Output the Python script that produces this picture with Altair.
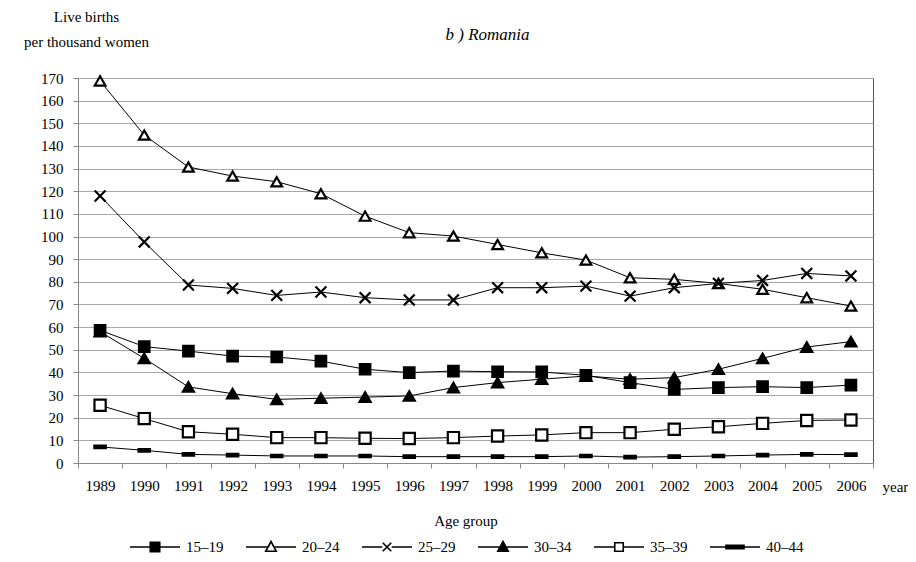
import altair as alt
import pandas as pd

years = list(range(1989, 2007))
age_groups = ["15–19", "20–24", "25–29", "30–34", "35–39", "40–44"]

s15_19 = [58.6, 51.4, 49.4, 47.2, 46.8, 45.0, 41.4, 39.9, 40.6, 40.3, 40.2, 38.7, 35.5, 32.5, 33.3, 33.7, 33.3, 34.4]
s20_24 = [168.7, 144.8, 130.7, 126.7, 124.2, 118.9, 109.0, 101.7, 100.2, 96.5, 92.8, 89.6, 81.8, 81.1, 79.3, 76.7, 73.0, 69.3]
s25_29 = [117.9, 97.6, 78.6, 77.1, 74.0, 75.5, 73.0, 72.0, 72.0, 77.4, 77.4, 78.1, 73.7, 77.4, 79.3, 80.6, 83.7, 82.6]
s30_34 = [58.0, 46.2, 33.6, 30.6, 28.1, 28.6, 29.1, 29.6, 33.3, 35.5, 37.0, 38.4, 37.0, 37.7, 41.4, 46.2, 51.2, 53.6]
s35_39 = [25.5, 19.6, 13.8, 12.7, 11.2, 11.2, 10.9, 10.8, 11.2, 11.9, 12.4, 13.4, 13.4, 14.9, 16.0, 17.5, 18.8, 19.0]
s40_44 = [7.1, 5.6, 3.8, 3.5, 3.1, 3.1, 3.1, 2.8, 2.8, 2.8, 2.8, 3.1, 2.6, 2.8, 3.1, 3.5, 3.8, 3.7]
series = [s15_19, s20_24, s25_29, s30_34, s35_39, s40_44]

y_ticks = list(range(0, 171, 10))

rows = []
for g, vals in zip(age_groups, series):
    for yr, v in zip(years, vals):
        rows.append({"year": yr, "group": g, "value": v})
df = pd.DataFrame(rows)

FONT = "'Liberation Serif', 'Times New Roman', 'DejaVu Serif', serif"

marker_shapes = ["square", "triangle-up", "M-1,-1L1,1M-1,1L1,-1", "triangle-up", "square",
                 "M-1,-0.22H1V0.22H-1Z"]
marker_fills = ["black", "white", "black", "black", "white", "black"]
marker_sizes = [110, 130, 110, 130, 95, 160]
legend_strokes = ["black"] * 6

legend_shapes = [
    "M-1,0H-0.19M0.19,0H1M-0.19,-0.19H0.19V0.19H-0.19Z",
    "M-1,0H-0.11M0.11,0H1M0,-0.22L0.21,0.17H-0.21Z",
    "M-1,0H-0.19M0.19,0H1M-0.17,-0.17L0.17,0.17M-0.17,0.17L0.17,-0.17",
    "M-1,0H1M0,-0.22L0.21,0.17H-0.21Z",
    "M-1,0H-0.17M0.17,0H1M-0.17,-0.17H0.17V0.17H-0.17Z",
    "M-1,0H-0.36M0.36,0H1M-0.36,-0.07H0.36V0.07H-0.36Z",
]

x_enc = alt.X("year:O",
              scale=alt.Scale(type="band", paddingInner=0, paddingOuter=0),
              bandPosition=0.5,
              axis=alt.Axis(title="year", tickBand="extent", labelAngle=0,
                            titleX=804, titleY=23, titleAlign="left",
                            titleBaseline="middle", titleFontWeight="normal",
                            titleFont=FONT, titleFontSize=15, titleColor="black",
                            labelFont=FONT, labelFontSize=15, labelColor="black",
                            labelPadding=10, tickSize=5, tickColor="#888888",
                            domainColor="#888888", grid=False))
y_enc = alt.Y("value:Q",
              scale=alt.Scale(domain=[0, 170], nice=False, zero=True),
              axis=alt.Axis(title=["Live births", "per thousand women"], values=y_ticks,
                            titleAngle=0, titleX=8, titleY=-69, titleAlign="center",
                            titleBaseline="top", titleLineHeight=25,
                            titleFontWeight="normal", titleFont=FONT, titleFontSize=15,
                            titleColor="black",
                            labelFont=FONT, labelFontSize=15, labelColor="black",
                            labelPadding=10, tickSize=5, tickColor="#888888",
                            domainColor="#888888", gridColor="#a8a8a8", grid=True))

lines = alt.Chart(df).mark_line(color="black", strokeWidth=1).encode(
    x=x_enc, y=y_enc, detail="group:N")

points = alt.Chart(df).mark_point(opacity=1, stroke="black", strokeWidth=2.2).encode(
    x=x_enc, y=y_enc,
    shape=alt.Shape("group:N", scale=alt.Scale(domain=age_groups, range=marker_shapes), legend=None),
    fill=alt.Fill("group:N", scale=alt.Scale(domain=age_groups, range=marker_fills), legend=None),
    size=alt.Size("group:N", scale=alt.Scale(domain=age_groups, range=marker_sizes), legend=None),
)

leg = alt.Legend(title="Age group", orient="none", legendX=51, legendY=436,
                 direction="horizontal", titleOrient="top", titleAnchor="middle",
                 titleFont=FONT, titleFontSize=15, titleFontWeight="normal",
                 titleColor="black", titlePadding=-8,
                 labelFont=FONT, labelFontSize=15, labelColor="black", labelOffset=5,
                 symbolSize=2500, symbolStrokeColor="black", symbolStrokeWidth=1.6,
                 symbolOpacity=1, columnPadding=18)

legend_layer = alt.Chart(df).transform_filter("datum.value < -1").mark_point(
    opacity=1, strokeWidth=1.6).encode(
    x=x_enc, y=y_enc,
    shape=alt.Shape("group:N", scale=alt.Scale(domain=age_groups, range=legend_shapes), legend=leg),
    fill=alt.Fill("group:N", scale=alt.Scale(domain=age_groups, range=marker_fills), legend=leg),
    stroke=alt.Stroke("group:N", scale=alt.Scale(domain=age_groups, range=legend_strokes), legend=leg),
)

chart = alt.layer(lines, points, legend_layer).resolve_scale(
    shape="independent", fill="independent", size="independent", stroke="independent"
).properties(
    width=795, height=385,
    title=alt.TitleParams("b ) Romania", font=FONT, fontSize=17, fontStyle="italic",
                          fontWeight="normal", color="black", anchor="middle",
                          frame="group", offset=-35, dx=12),
    autosize=alt.AutoSizeParams(type="none"),
    padding={"left": 70, "top": 70, "right": 35, "bottom": 91},
    background="white",
).configure_view(stroke="#555555", strokeWidth=1)

chart.save("out.html", embed_options={"renderer": "svg", "actions": False})
